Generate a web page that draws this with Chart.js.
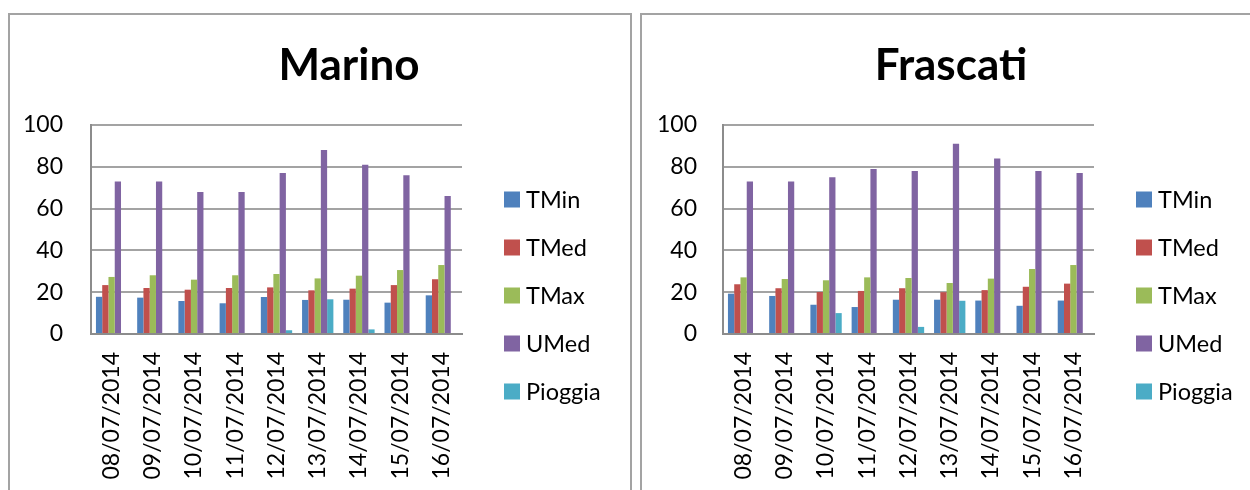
<!DOCTYPE html>
<html>
<head>
<meta charset="utf-8">
<script src="https://cdn.jsdelivr.net/npm/chart.js@4.4.1/dist/chart.umd.min.js"></script>
<style>
  html, body { margin: 0; padding: 0; background: #fff; width: 1250px; height: 490px; overflow: hidden; position: relative; }
  .panel { position: absolute; top: 13px; height: 520px; border: 2px solid #a3a3a3; background: #fff; }
  #p1 { left: 8px; width: 620px; }
  #p2 { left: 640px; width: 640px; }
  canvas { position: absolute; left: 0; top: 0; }
</style>
</head>
<body>
<div class="panel" id="p1"><canvas id="c1" width="620" height="475"></canvas></div>
<div class="panel" id="p2"><canvas id="c2" width="608" height="475"></canvas></div>
<script>
// Days of observation
const dates = ['08/07/2014', '09/07/2014', '10/07/2014', '11/07/2014', '12/07/2014',
               '13/07/2014', '14/07/2014', '15/07/2014', '16/07/2014'];

const seriesNames = ['TMin', 'TMed', 'TMax', 'UMed', 'Pioggia'];
const seriesColors = ['#4F81BD', '#C0504D', '#9BBB59', '#8064A2', '#4BACC6'];
const yTicks = [0, 20, 40, 60, 80, 100];

// Marino station
const marinoTMin    = [17.8, 17.4, 15.8, 14.7, 17.7, 16.3, 16.4, 15.0, 18.5];
const marinoTMed    = [23.4, 22.0, 21.2, 22.0, 22.3, 20.9, 21.7, 23.4, 26.2];
const marinoTMax    = [27.3, 28.1, 26.0, 28.1, 28.7, 26.6, 27.9, 30.6, 33.0];
const marinoUMed    = [73, 73, 68, 68, 77, 88, 81, 76, 66];
const marinoPioggia = [0, 0, 0, 0, 1.8, 16.6, 2.2, 0, 0];

// Frascati station
const frascatiTMin    = [19.3, 18.2, 14.0, 12.9, 16.4, 16.4, 16.0, 13.5, 16.0];
const frascatiTMed    = [23.8, 21.9, 20.1, 20.6, 21.9, 20.0, 21.0, 22.6, 24.1];
const frascatiTMax    = [27.1, 26.3, 25.7, 27.1, 26.8, 24.4, 26.5, 31.1, 33.0];
const frascatiUMed    = [73, 73, 75, 79, 78, 91, 84, 78, 77];
const frascatiPioggia = [0, 0, 10.0, 0, 3.4, 15.9, 0, 0, 0];

const FONT = 'Lato, "Noto Sans", sans-serif';

// Draws the heading and the side key for each panel
const headerAndKey = {
  id: 'headerAndKey',
  afterDraw(chart, args, opts) {
    const ctx = chart.ctx;
    ctx.save();
    ctx.fillStyle = '#000';
    ctx.font = 'bold ' + opts.titleSize + 'px ' + FONT;
    ctx.textAlign = 'center';
    ctx.textBaseline = 'alphabetic';
    ctx.fillText(opts.title, opts.titleX, opts.titleY);

    ctx.font = opts.keySize + 'px ' + FONT;
    ctx.textAlign = 'left';
    ctx.textBaseline = 'middle';
    chart.data.datasets.forEach((ds, i) => {
      const cy = opts.keyY + i * opts.keyStep;
      ctx.fillStyle = ds.backgroundColor;
      ctx.fillRect(opts.keyX, cy - 8, 16, 16);
      ctx.fillStyle = '#000';
      ctx.fillText(ds.label, opts.keyX + 22, cy + 1);
    });
    ctx.restore();
  }
};

function makeChart(canvasId, title, seriesValues, cfg) {
  const datasets = seriesValues.map((vals, i) => ({
    label: seriesNames[i],
    data: vals,
    backgroundColor: seriesColors[i],
    borderWidth: 0,
    categoryPercentage: 0.76,
    barPercentage: 1.0
  }));
  return new Chart(document.getElementById(canvasId), {
    type: 'bar',
    data: { labels: dates, datasets },
    plugins: [headerAndKey],
    options: {
      responsive: false,
      animation: false,
      devicePixelRatio: 1,
      layout: { padding: { top: 110, right: cfg.padRight, bottom: 0, left: 0 } },
      plugins: {
        legend: { display: false },
        title: { display: false },
        tooltip: { enabled: false },
        headerAndKey: {
          title,
          titleSize: cfg.titleSize,
          titleX: cfg.titleX,
          titleY: 64.5,
          keySize: 23.5,
          keyX: 494,
          keyY: 184.5,
          keyStep: 48
        }
      },
      scales: {
        x: {
          grid: { display: false, drawTicks: false },
          border: { display: true, color: '#8c8c8c', width: 2 },
          ticks: {
            autoSkip: false,
            maxRotation: 90,
            minRotation: 90,
            padding: 18,
            color: '#000',
            font: { family: FONT, size: 23 }
          },
          afterFit(scale) { scale.height = 156; }
        },
        y: {
          min: 0,
          max: 100,
          afterBuildTicks(scale) { scale.ticks = yTicks.map(v => ({ value: v })); },
          grid: { color: '#a3a3a3', lineWidth: 2, drawTicks: false },
          border: { display: true, color: '#8c8c8c', width: 2 },
          ticks: {
            padding: cfg.yPad,
            color: '#000',
            font: { family: FONT, size: 23 }
          },
          afterFit(scale) { scale.width = 81; }
        }
      }
    }
  });
}

makeChart('c1', 'Marino',
  [marinoTMin, marinoTMed, marinoTMax, marinoUMed, marinoPioggia],
  { padRight: 168, titleX: 339, titleSize: 44, yPad: 28 });

makeChart('c2', 'Frascati',
  [frascatiTMin, frascatiTMed, frascatiTMax, frascatiUMed, frascatiPioggia],
  { padRight: 156, titleX: 309, titleSize: 44, yPad: 26 });
</script>
</body>
</html>
